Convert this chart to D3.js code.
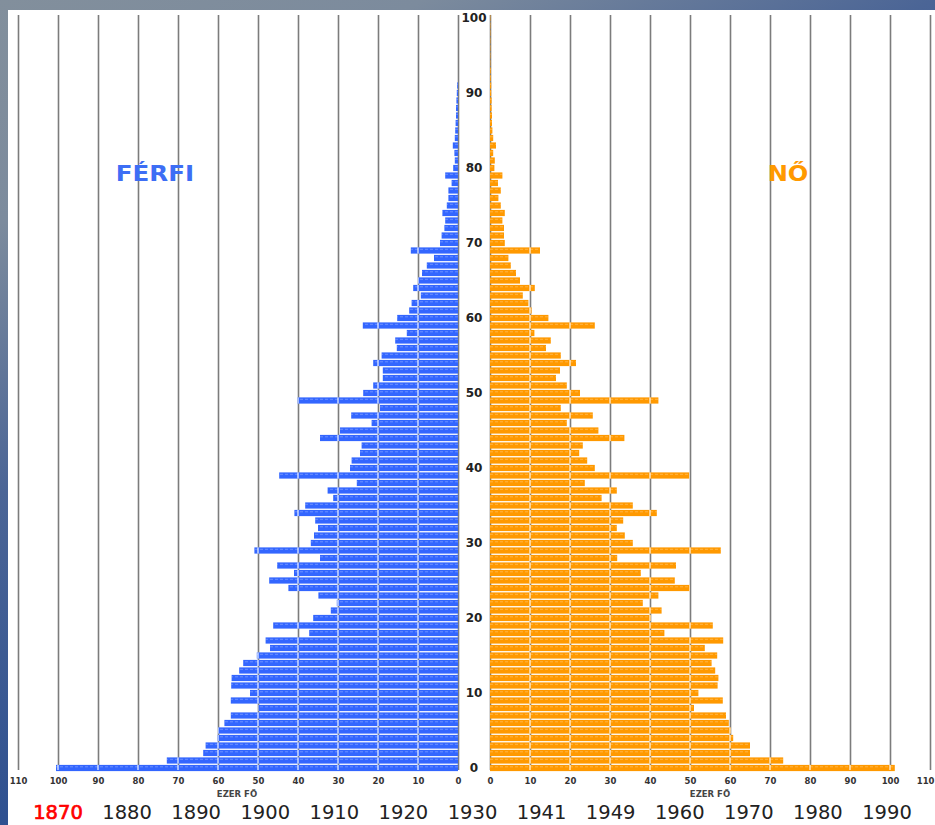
<!DOCTYPE html>
<html><head><meta charset="utf-8">
<script src="https://cdn.jsdelivr.net/npm/d3@7"></script>
<style>html,body{margin:0;padding:0;overflow:hidden;background:#fff}svg{display:block}</style>
</head><body><svg id="c" width="935" height="825"></svg>
<script>
// ---- data (thousand persons, Hungary 1870) ----
const ages = d3.range(0, 101);
const male = [
  100.5, 72.8, 63.7, 63.1, 60.1, 60.0, 58.4, 56.8, 49.9, 56.8,
  52.0, 56.7, 56.6, 54.7, 53.7, 50.3, 47.0, 48.1, 37.2, 46.2,
  36.2, 31.8, 30.3, 34.9, 42.4, 47.2, 41.0, 45.2, 34.5, 50.9,
  36.8, 36.0, 35.0, 35.7, 40.9, 38.2, 31.2, 32.6, 25.3, 44.7,
  27.0, 26.6, 24.5, 24.1, 34.5, 29.5, 21.6, 26.7, 19.5, 40.1,
  23.7, 21.2, 18.8, 18.8, 21.2, 19.1, 15.3, 15.7, 12.8, 23.8,
  15.2, 12.2, 11.6, 9.3, 11.2, 10.0, 9.0, 7.8, 6.0, 11.8,
  4.5, 4.1, 3.4, 3.2, 3.9, 2.8, 2.4, 2.4, 1.6, 3.2,
  1.2, 0.8, 0.9, 1.3, 0.8, 0.7, 0.6, 0.5, 0.5, 0.4,
  0.3, 0.2, 0, 0, 0, 0, 0, 0, 0, 0, 0
];
const female = [
  101.2, 73.3, 65.0, 65.0, 60.8, 60.2, 59.7, 59.0, 51.0, 58.2,
  52.1, 56.9, 57.1, 56.3, 55.4, 56.8, 53.7, 58.3, 43.6, 55.7,
  40.2, 42.9, 38.2, 42.1, 50.0, 46.2, 37.7, 46.5, 31.8, 57.7,
  35.7, 33.7, 31.7, 33.3, 41.7, 35.7, 27.9, 31.7, 23.7, 49.8,
  26.2, 24.3, 22.3, 23.2, 33.6, 27.1, 19.2, 25.7, 17.7, 42.1,
  22.5, 19.2, 16.5, 17.5, 21.5, 17.7, 14.0, 15.2, 11.1, 26.2,
  14.6, 10.4, 9.6, 8.2, 11.2, 7.5, 6.5, 5.2, 4.6, 12.5,
  3.7, 3.5, 3.5, 3.1, 3.7, 2.7, 2.1, 2.7, 2.0, 3.1,
  1.1, 1.2, 0.8, 1.5, 0.8, 0.6, 0.5, 0.5, 0.4, 0.4,
  0.3, 0.3, 0.2, 0.2, 0.1, 0.1, 0.1, 0.1, 0.1, 0.1, 0.1
];
const xTicks = [0, 10, 20, 30, 40, 50, 60, 70, 80, 90, 100, 110];
const ageTicks = [0, 10, 20, 30, 40, 50, 60, 70, 80, 90, 100];
const years = ["1870", "1880", "1890", "1900", "1910", "1920", "1930", "1941", "1949", "1960", "1970", "1980", "1990"];
const currentYear = "1870";
const maleLabel = "FÉRFI", femaleLabel = "NŐ", unitLabel = "EZER FŐ";

// ---- drawing ----
const svg = d3.select("#c");
const defs = svg.append("defs");
const bg = defs.append("linearGradient").attr("id", "bg")
  .attr("x1", 0).attr("y1", 0).attr("x2", 0.6).attr("y2", 1);
[[0, "#828f9c"], [0.2, "#7c8b9d"], [0.44, "#4b6596"], [0.73, "#2f5190"], [1, "#2a4a88"]]
  .forEach(([o, c]) => bg.append("stop").attr("offset", o).attr("stop-color", c));
svg.append("rect").attr("width", 935).attr("height", 825).attr("fill", "url(#bg)");
svg.append("rect").attr("x", 8).attr("y", 10).attr("width", 927).attr("height", 815).attr("fill", "#fff");

const xL = d3.scaleLinear().domain([0, 110]).range([458, 18]);
const xR = d3.scaleLinear().domain([0, 110]).range([490, 930]);
const y = d3.scaleLinear().domain([0, 100]).range([768, 18]);
const barH = 6.2;
const gTop = 15, gBottom = 770;
const FONT = "'DejaVu Sans', Verdana, sans-serif";

function grid(scale) {
  return g => {
    g.call(d3.axisBottom(scale).tickValues(xTicks).tickSize(gBottom - gTop).tickFormat(""));
    g.select(".domain").remove();
    g.selectAll("line").attr("stroke", "#7c7c7c").attr("stroke-width", 1.6);
  };
}
svg.append("g").attr("transform", `translate(0,${gTop})`).call(grid(xL));
svg.append("g").attr("transform", `translate(0,${gTop})`).call(grid(xR));

// bars
const BLUE = "#3366ff", ORANGE = "#ff9900";
function barsInto(sel, cls) {
  sel.selectAll("rect." + cls + "m").data(ages).join("rect").attr("class", cls + "m")
    .attr("x", a => xL(male[a])).attr("y", a => y(a) - barH / 2)
    .attr("width", a => xL(0) - xL(male[a])).attr("height", barH);
  sel.selectAll("rect." + cls + "f").data(ages).join("rect").attr("class", cls + "f")
    .attr("x", xR(0)).attr("y", a => y(a) - barH / 2)
    .attr("width", a => xR(female[a]) - xR(0)).attr("height", barH);
}
const gBars = svg.append("g");
barsInto(gBars, "b");
gBars.selectAll("rect.bm").attr("fill", BLUE);
gBars.selectAll("rect.bf").attr("fill", ORANGE);

// white grid breaks through bars
const cp = defs.append("clipPath").attr("id", "barclip");
barsInto(cp, "c");
const gBreak = svg.append("g").attr("clip-path", "url(#barclip)");
xTicks.slice(1).forEach(t => {
  [xL(t), xR(t)].forEach(xx => gBreak.append("line")
    .attr("x1", xx).attr("x2", xx).attr("y1", gTop).attr("y2", gBottom)
    .attr("stroke", "#fff").attr("stroke-opacity", 0.8).attr("stroke-width", 1.4));
});
// subtle row texture
gBreak.selectAll("line.tex").data(ages).join("line").attr("class", "tex")
  .attr("x1", 0).attr("x2", 935).attr("y1", a => y(a) - 1.2).attr("y2", a => y(a) - 1.2)
  .attr("stroke", "#fff").attr("stroke-opacity", 0.35).attr("stroke-width", 0.8)
  .attr("stroke-dasharray", "3,2");

// tick labels
function tickLabels(scale) {
  return g => {
    g.call(d3.axisBottom(scale).tickValues(xTicks).tickSize(0).tickPadding(2));
    g.select(".domain").remove();
    g.selectAll("text").attr("font-family", FONT).attr("font-size", 8.5)
      .attr("font-weight", "bold").attr("fill", "#333");
  };
}
svg.append("g").attr("transform", "translate(0,776)").call(tickLabels(xL));
const gRT = svg.append("g").attr("transform", "translate(0,776)").call(tickLabels(xR));
gRT.selectAll(".tick").filter(d => d === 110).select("text").attr("text-anchor", "end").attr("dx", 4);
[[237], [710]].forEach(([cx]) => svg.append("text").attr("x", cx).attr("y", 797)
  .attr("text-anchor", "middle").attr("font-family", FONT).attr("font-size", 8.5)
  .attr("font-weight", "bold").attr("fill", "#444").text(unitLabel));

// age labels
svg.append("g").selectAll("text").data(ageTicks).join("text")
  .attr("x", 474).attr("y", a => y(a)).attr("dy", "0.36em")
  .attr("text-anchor", "middle").attr("font-family", FONT).attr("font-size", 12)
  .attr("font-weight", "bold").attr("fill", "#222").text(a => a);

// sex labels (slightly widened glyphs)
function sexLabel(cx, txt, fill, sx) {
  svg.append("text").attr("transform", `translate(${cx},181) scale(${sx},1)`)
    .attr("text-anchor", "middle").attr("font-family", FONT).attr("font-size", 21)
    .attr("font-weight", "bold").attr("fill", fill).text(txt);
}
sexLabel(155, maleLabel, "#3d6ef5", 1.17);
sexLabel(788, femaleLabel, ORANGE, 1.15);

// year selector
const xYear = d3.scalePoint().domain(years).range([58, 887]);
svg.append("g").selectAll("text").data(years).join("text")
  .attr("x", d => xYear(d)).attr("y", 819).attr("text-anchor", "middle")
  .attr("font-family", FONT).attr("font-size", 19.5)
  .attr("fill", d => d === currentYear ? "#ff0000" : "#222")
  .attr("stroke", d => d === currentYear ? "#ff0000" : "none").attr("stroke-width", 0.7)
  .text(d => d);
</script></body></html>
